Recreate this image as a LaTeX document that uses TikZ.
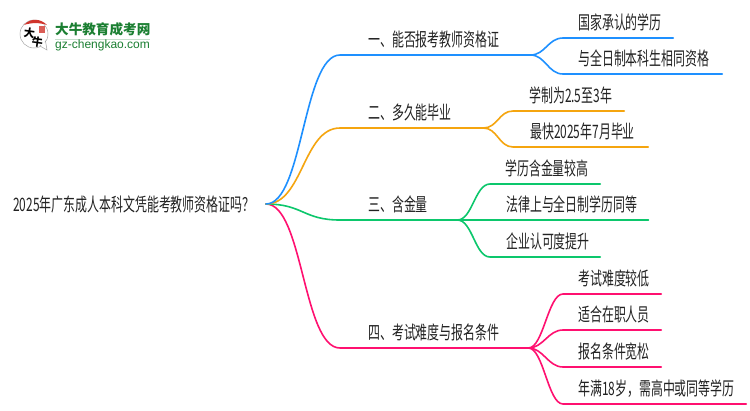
\documentclass[tikz,border=0pt]{standalone}
\usepackage{fontspec}
\setmainfont[FakeStretch=0.645]{Noto Sans CJK SC}
\newfontfamily\logocjk{Noto Sans CJK SC}
\newfontfamily\logolatin{Liberation Sans}
\usetikzlibrary{calc}
\definecolor{cblue}{HTML}{1E90FF}
\definecolor{corange}{HTML}{F5A50F}
\definecolor{cgreen}{HTML}{0CC76C}
\definecolor{cpink}{HTML}{FF1070}
\definecolor{ctext}{HTML}{222222}
\definecolor{lgreen}{HTML}{1B7F32}
\definecolor{lred}{HTML}{D0342C}
\tikzset{
  x=1pt,y=-1pt,
  label/.style={inner sep=0pt,anchor=south west,align=left,minimum height=30pt,text=ctext,font=\fontsize{18.5}{20}\selectfont},
  conn/.style={line width=1.6pt,line cap=round,line join=round},
}
\newcommand{\branch}[4]{% color, from, to, dx
  \draw[conn,#1] (#2) .. controls ($(#2)+(#4,0)$) and ($(#3.south west)+(-#4,0)$) .. (#3.south west) -- (#3.south east);
}
\begin{document}
\begin{tikzpicture}
\useasboundingbox (0,0) rectangle (750,410);
\fill[white] (0,0) rectangle (750,410);
% logo
\fill[white,draw=black!35,line width=.5pt] (34,34) circle (14);
\fill[white,draw=black!35,line width=.5pt] (40,46) -- (47,50) -- (45.5,41) -- cycle;
\fill[white] (38,43) -- (44,46) -- (45,40) -- cycle;
\fill[lred] (24,25) .. controls (30,18) and (40,18) .. (47,25) .. controls (40,22.5) and (31,22.5) .. (24,25) -- cycle;
\fill[lred!80] (38.5,25.5) rectangle (45,33);
\node[inner sep=0pt,rotate=-8,font=\logocjk\fontsize{11}{11}\bfseries\selectfont,text=black] (logoA) at (29.5,33) {大};
\node[inner sep=0pt,rotate=-8,font=\logocjk\fontsize{11}{11}\bfseries\selectfont,text=black] (logoB) at (37.5,42.5) {牛};
\node[inner sep=0pt,anchor=west,font=\logocjk\fontsize{13.6}{14}\bfseries\selectfont,text=lgreen] (logoT) at (55,29) {大牛教育成考网};
\fill[lgreen!25] (55,38.5) rectangle (150,39.5);
\node[inner sep=0pt,anchor=west,font=\logolatin\fontsize{12}{13}\selectfont,text=lgreen] (logoU) at (55,45) {gz-chengkao.com};
% root
\node[inner sep=0pt,anchor=west,text=ctext,font=\fontsize{18.5}{20}\selectfont] (root) at (13,204.5) {2025年广东成人本科文凭能考教师资格证吗？};
\coordinate (o) at (266,204);
% level 1
\node[label,text width=190pt,minimum width=190pt] (a) at (340,55) {\hspace{28pt}一、能否报考教师资格证};
\node[label,text width=143pt,minimum width=143pt] (b) at (340,128) {\hspace{28pt}二、多久能毕业};
\node[label,text width=117pt,minimum width=117pt] (c) at (340,220) {\hspace{28pt}三、含金量};
\node[label,text width=188pt,minimum width=188pt] (d) at (340,348) {\hspace{28pt}四、考试难度与报名条件};
% level 2
\node[label,text width=110pt,minimum width=110pt] (a1) at (563,38) {\hspace{15pt}国家承认的学历};
\node[label,text width=159pt,minimum width=159pt] (a2) at (563,74) {\hspace{15pt}与全日制本科生相同资格};
\node[label,text width=111pt,minimum width=111pt] (b1) at (513,111) {\hspace{16pt}学制为2.5至3年};
\node[label,text width=135pt,minimum width=135pt] (b2) at (513,147) {\hspace{17pt}最快2025年7月毕业};
\node[label,text width=110pt,minimum width=110pt] (c1) at (490,184) {\hspace{15pt}学历含金量较高};
\node[label,text width=158pt,minimum width=158pt] (c2) at (490,220) {\hspace{16pt}法律上与全日制学历同等};
\node[label,text width=110pt,minimum width=110pt] (c3) at (490,257) {\hspace{16pt}企业认可度提升};
\node[label,text width=98pt,minimum width=98pt] (d1) at (563,294) {\hspace{15pt}考试难度较低};
\node[label,text width=98pt,minimum width=98pt] (d2) at (563,330) {\hspace{15pt}适合在职人员};
\node[label,text width=98pt,minimum width=98pt] (d3) at (563,367) {\hspace{15pt}报名条件宽松};
\node[label,text width=183pt,minimum width=183pt] (d4) at (563,404) {\hspace{15pt}年满18岁，需高中或同等学历};
% connectors
\branch{cpink}{o}{d}{37}
\branch{cgreen}{o}{c}{37}
\branch{corange}{o}{b}{37}
\branch{cblue}{o}{a}{37}
\coordinate (ha) at (a.south east);
\coordinate (hb) at (b.south east);
\coordinate (hc) at (c.south east);
\coordinate (hd) at (d.south east);
\branch{cblue}{ha}{a1}{15}
\branch{cblue}{ha}{a2}{15}
\branch{corange}{hb}{b1}{14}
\branch{corange}{hb}{b2}{14}
\branch{cgreen}{hc}{c1}{15}
\branch{cgreen}{hc}{c2}{15}
\branch{cgreen}{hc}{c3}{15}
\branch{cpink}{hd}{d1}{15}
\branch{cpink}{hd}{d2}{15}
\branch{cpink}{hd}{d3}{15}
\branch{cpink}{hd}{d4}{15}
\end{tikzpicture}
\end{document}
